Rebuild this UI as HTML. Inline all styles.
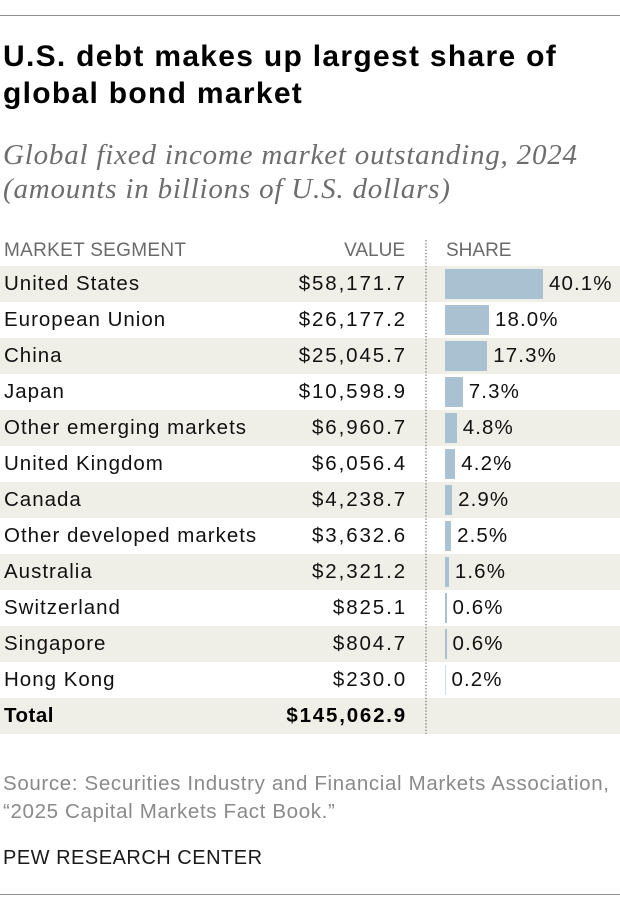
<!DOCTYPE html>
<html>
<head>
<meta charset="utf-8">
<style>
  html, body { margin:0; padding:0; }
  body { width:620px; height:912px; position:relative; background:#fff; overflow:hidden;
         font-family:"Liberation Sans", Arial, sans-serif; color:#111; }
  .abs { position:absolute; white-space:nowrap; }
  .rule { position:absolute; left:0; width:620px; height:1px; background:#8f8f8f; }
  .title { font-weight:bold; font-size:30px; line-height:30px; letter-spacing:1.3px; color:#000; left:3px; }
  .sub { font-family:"Liberation Serif", "Times New Roman", serif; font-style:italic; font-size:29px; line-height:29px; letter-spacing:0.8px; color:#6d6d6d; left:3px; }
  .hdr { font-size:19px; line-height:19px; color:#6a6a6a; top:241px; }
  .band { position:absolute; left:0; width:620px; height:36px; background:#f0efe7; }
  .row { position:absolute; left:0; width:620px; height:36px; line-height:36px; font-size:20.5px; }
  .row .lab { position:absolute; left:4px; letter-spacing:1px; color:#111; }
  .row .val { position:absolute; right:213px; letter-spacing:1.9px; color:#111; }
  .row .pct { position:absolute; letter-spacing:1.1px; color:#111; }
  .bar { position:absolute; left:445px; top:3px; height:30px; background:#a9c1d1; }
  .src { font-size:20.5px; line-height:20.5px; letter-spacing:0.65px; color:#8a8a8a; left:3px; }
</style>
</head>
<body>
  <div class="rule" style="top:15px;"></div>

  <div class="abs title" style="top:41.6px;">U.S. debt makes up largest share of</div>
  <div class="abs title" style="top:78.6px;">global bond market</div>

  <div class="abs sub" style="top:140.7px;">Global fixed income market outstanding, 2024</div>
  <div class="abs sub" style="top:174.7px;">(amounts in billions of U.S. dollars)</div>

  <div class="abs hdr" style="left:4px; letter-spacing:0.3px;">MARKET SEGMENT</div>
  <div class="abs hdr" style="right:215px;">VALUE</div>
  <div class="abs hdr" style="left:446px;">SHARE</div>

  <!-- bands -->
  <div class="band" style="top:266px;"></div>
  <div class="band" style="top:338px;"></div>
  <div class="band" style="top:410px;"></div>
  <div class="band" style="top:482px;"></div>
  <div class="band" style="top:554px;"></div>
  <div class="band" style="top:626px;"></div>
  <div class="band" style="top:698px;"></div>

  <!-- dotted separator -->
  <svg class="abs" style="left:0; top:0;" width="620" height="912">
    <line x1="426" y1="240" x2="426" y2="734" stroke="#8a8a8a" stroke-width="1.4" stroke-dasharray="1.4 1.8"/>
  </svg>

  <div class="row" style="top:266px;"><div class="bar" style="width:98px;"></div><span class="lab">United States</span><span class="val">$58,171.7</span><span class="pct" style="left:549px;">40.1%</span></div>
  <div class="row" style="top:302px;"><div class="bar" style="width:44px;"></div><span class="lab">European Union</span><span class="val">$26,177.2</span><span class="pct" style="left:495px;">18.0%</span></div>
  <div class="row" style="top:338px;"><div class="bar" style="width:42.3px;"></div><span class="lab">China</span><span class="val">$25,045.7</span><span class="pct" style="left:493.3px;">17.3%</span></div>
  <div class="row" style="top:374px;"><div class="bar" style="width:17.8px;"></div><span class="lab">Japan</span><span class="val">$10,598.9</span><span class="pct" style="left:468.8px;">7.3%</span></div>
  <div class="row" style="top:410px;"><div class="bar" style="width:11.7px;"></div><span class="lab">Other emerging markets</span><span class="val">$6,960.7</span><span class="pct" style="left:462.7px;">4.8%</span></div>
  <div class="row" style="top:446px;"><div class="bar" style="width:10.3px;"></div><span class="lab">United Kingdom</span><span class="val">$6,056.4</span><span class="pct" style="left:461.3px;">4.2%</span></div>
  <div class="row" style="top:482px;"><div class="bar" style="width:7.1px;"></div><span class="lab">Canada</span><span class="val">$4,238.7</span><span class="pct" style="left:458.1px;">2.9%</span></div>
  <div class="row" style="top:518px;"><div class="bar" style="width:6.1px;"></div><span class="lab">Other developed markets</span><span class="val">$3,632.6</span><span class="pct" style="left:457.1px;">2.5%</span></div>
  <div class="row" style="top:554px;"><div class="bar" style="width:3.9px;"></div><span class="lab">Australia</span><span class="val">$2,321.2</span><span class="pct" style="left:454.9px;">1.6%</span></div>
  <div class="row" style="top:590px;"><div class="bar" style="width:1.5px;"></div><span class="lab">Switzerland</span><span class="val">$825.1</span><span class="pct" style="left:452.5px;">0.6%</span></div>
  <div class="row" style="top:626px;"><div class="bar" style="width:1.5px;"></div><span class="lab">Singapore</span><span class="val">$804.7</span><span class="pct" style="left:452.5px;">0.6%</span></div>
  <div class="row" style="top:662px;"><div class="bar" style="width:1px; background:#d3dfe7;"></div><span class="lab">Hong Kong</span><span class="val">$230.0</span><span class="pct" style="left:451.5px;">0.2%</span></div>
  <div class="row" style="top:698px; font-weight:bold;"><span class="lab" style="letter-spacing:0.5px; color:#000;">Total</span><span class="val" style="letter-spacing:1.8px; color:#000;">$145,062.9</span></div>

  <div class="abs src" style="top:774px;">Source: Securities Industry and Financial Markets Association,</div>
  <div class="abs src" style="top:801.5px;">“2025 Capital Markets Fact Book.”</div>

  <div class="abs" style="left:3px; top:848px; font-size:20px; line-height:20px; letter-spacing:0.5px; color:#1a1a1a;">PEW RESEARCH CENTER</div>

  <div class="rule" style="top:894px;"></div>
</body>
</html>
